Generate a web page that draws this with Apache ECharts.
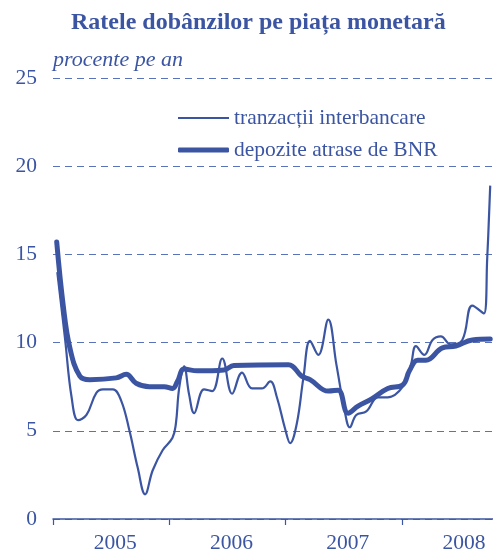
<!DOCTYPE html>
<html>
<head>
<meta charset="utf-8">
<script src="https://cdn.jsdelivr.net/npm/echarts@6/dist/echarts.min.js"></script>
<style>
  html, body { margin: 0; padding: 0; background: #fff; overflow: hidden; }
  #chart { width: 521px; height: 554px; }
</style>
</head>
<body>
<div id="chart"></div>
<script>
'use strict';

// values, x in fractional years
var interbankX = [2005.037, 2005.103, 2005.160, 2005.216, 2005.288, 2005.373, 2005.430, 2005.515, 2005.587,
    2005.658, 2005.729, 2005.792, 2005.857, 2005.943, 2006.028, 2006.057, 2006.085, 2006.128, 2006.171,
    2006.214, 2006.299, 2006.370, 2006.456, 2006.541, 2006.626, 2006.712, 2006.797, 2006.869, 2006.926,
    2006.997, 2007.040, 2007.097, 2007.154, 2007.211, 2007.282, 2007.368, 2007.438, 2007.510, 2007.553,
    2007.609, 2007.695, 2007.795, 2007.880, 2008.009, 2008.079, 2008.122, 2008.194, 2008.265, 2008.336,
    2008.421, 2008.521, 2008.607, 2008.707, 2008.735, 2008.761];
var interbankY = [14.0, 10.25, 6.9, 5.6, 5.9, 7.15, 7.35, 7.35, 6.7,
    5.0, 2.9, 1.4, 2.75, 3.9, 4.6, 5.4, 7.4, 8.65, 7.05,
    6.0, 7.35, 7.25, 9.1, 7.1, 8.3, 7.4, 7.4, 7.8, 6.9,
    5.1, 4.3, 5.4, 8.0, 10.1, 9.3, 11.3, 8.75, 6.1, 5.2,
    5.9, 6.1, 6.9, 6.9, 7.5, 8.75, 9.8, 9.3, 10.15, 10.35,
    9.9, 10.15, 12.1, 11.65, 14.75, 18.9];

var depositX = [2005.032, 2005.088, 2005.145, 2005.231, 2005.316, 2005.544, 2005.630, 2005.715, 2005.829,
    2005.957, 2006.028, 2006.071, 2006.128, 2006.242, 2006.470, 2006.556, 2007.026, 2007.139, 2007.211,
    2007.368, 2007.453, 2007.538, 2007.624, 2007.738, 2007.880, 2008.009, 2008.066, 2008.137, 2008.208,
    2008.350, 2008.464, 2008.607, 2008.761];
var depositY = [15.7, 12.1, 9.7, 8.1, 7.9, 8.0, 8.2, 7.7, 7.5,
    7.5, 7.4, 7.8, 8.5, 8.4, 8.45, 8.7, 8.75, 8.1, 7.9,
    7.25, 7.3, 6.0, 6.4, 6.8, 7.4, 7.6, 8.4, 9.0, 9.0,
    9.7, 9.8, 10.15, 10.2];

var yearLabels = ['2005', '2006', '2007', '2008'];
var seriesNames = ['tranzacții interbancare', 'depozite atrase de BNR'];

var blue = '#3b55a3';
var serif = '"Liberation Serif", "Times New Roman", serif';

function pairs(xs, ys) {
    return xs.map(function (x, i) { return [x, ys[i]]; });
}

// the window cuts the chart at the right, like the original clipping of 2008
var chart = echarts.init(document.getElementById('chart'));

chart.setOption({
    animation: false,
    backgroundColor: '#fff',
    title: [{
        text: 'Ratele dobânzilor pe piața monetară',
        left: 66,
        top: 6,
        textStyle: { color: blue, fontFamily: serif, fontSize: 24, fontWeight: 'bold' }
    }, {
        text: 'procente pe an',
        left: 48,
        top: 44,
        textStyle: { color: blue, fontFamily: serif, fontSize: 22, fontStyle: 'italic', fontWeight: 'normal' }
    }],
    legend: [{
        data: [seriesNames[0]],
        left: 173,
        top: 102,
        icon: 'rect',
        itemWidth: 51,
        itemHeight: 2,
        textStyle: { color: blue, fontFamily: serif, fontSize: 21.5 }
    }, {
        data: [seriesNames[1]],
        left: 173,
        top: 134,
        icon: 'roundRect',
        itemWidth: 51,
        itemHeight: 5,
        textStyle: { color: blue, fontFamily: serif, fontSize: 21.5 }
    }],
    grid: { left: 53, right: 0, top: 78, bottom: 32, containLabel: false },
    xAxis: [{
        type: 'value',
        min: 2005,
        max: 2009,
        interval: 1,
        axisLine: { show: true, lineStyle: { color: blue, width: 1.5 } },
        axisTick: { show: true, length: 6, lineStyle: { color: blue, width: 1.2 } },
        axisLabel: { show: false },
        splitLine: { show: false }
    }, {
        type: 'value',
        position: 'bottom',
        min: 2005,
        max: 2009,
        interval: 0.5,
        axisLine: { show: false },
        axisTick: { show: false },
        splitLine: { show: false },
        axisLabel: {
            color: blue,
            fontFamily: serif,
            fontSize: 21.5,
            margin: 13,
            padding: [0, 0, 0, 8],
            formatter: function (v) {
                var i = Math.floor(v) - 2005;
                return Math.abs(v % 1 - 0.5) < 1e-6 ? yearLabels[i] : '';
            }
        }
    }],
    yAxis: {
        type: 'value',
        min: 0,
        max: 25,
        interval: 5,
        axisLine: { show: false },
        axisTick: { show: false },
        axisLabel: { color: blue, fontFamily: serif, fontSize: 21.5, margin: 16 },
        splitLine: { show: true, lineStyle: { color: '#5a72ba', type: [7, 5], width: 1 } }
    },
    series: [{
        name: seriesNames[0],
        type: 'line',
        data: pairs(interbankX, interbankY),
        smooth: 0.4,
        showSymbol: false,
        lineStyle: { color: blue, width: 2.2 },
        itemStyle: { color: blue }
    }, {
        name: seriesNames[1],
        type: 'line',
        data: pairs(depositX, depositY),
        smooth: 0.4,
        showSymbol: false,
        lineStyle: { color: blue, width: 5, cap: 'round', join: 'round' },
        itemStyle: { color: blue }
    }]
});
</script>
</body>
</html>
